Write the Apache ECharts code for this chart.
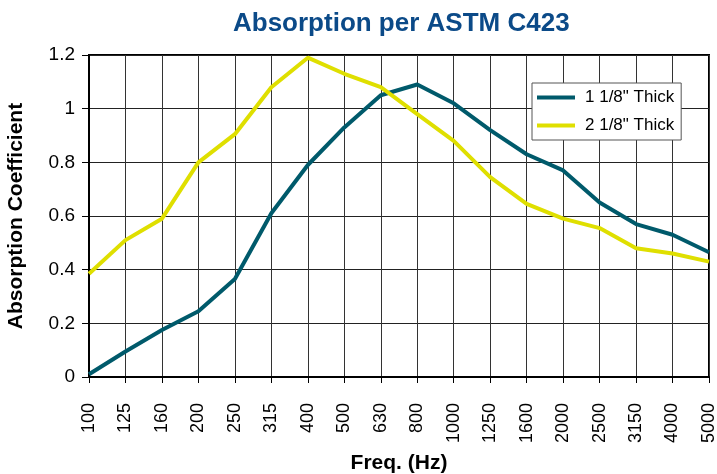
<!DOCTYPE html>
<html>
<head>
<meta charset="utf-8">
<script src="https://cdn.jsdelivr.net/npm/echarts@6/dist/echarts.min.js"></script>
<style>html,body{margin:0;padding:0;background:#fff;}#c{width:717px;height:474px;}</style>
</head>
<body>
<div id="c"></div>
<script>
var categories = ['100','125','160','200','250','315','400','500','630','800','1000','1250','1600','2000','2500','3150','4000','5000'];
var thick118 = [0.01,0.095,0.175,0.245,0.365,0.61,0.79,0.93,1.05,1.09,1.02,0.92,0.83,0.77,0.65,0.57,0.53,0.465];
var thick218 = [0.385,0.51,0.59,0.80,0.905,1.08,1.19,1.13,1.08,0.98,0.88,0.745,0.645,0.59,0.555,0.48,0.46,0.43];
var seriesNames = ['1 1/8" Thick','2 1/8" Thick'];

var chart = echarts.init(document.getElementById('c'));
var font = 'Liberation Sans, Arial, sans-serif';
chart.setOption({
  animation: false,
  backgroundColor: '#fff',
  title: {
    text: 'Absorption per ASTM C423',
    left: 228,
    top: 6,
    textStyle: {fontFamily: font, fontSize: 26, fontWeight: 'bold', color: '#0b4a88'}
  },
  legend: {
    data: [{name: seriesNames[0], icon: 'rect'}, {name: seriesNames[1], icon: 'rect'}],
    orient: 'vertical',
    left: 532,
    top: 83,
    padding: [6, 7, 6, 5],
    itemGap: 11,
    itemWidth: 38,
    itemHeight: 4,
    backgroundColor: '#fff',
    borderColor: '#555',
    borderWidth: 1,
    textStyle: {fontFamily: font, fontSize: 17, color: '#000', lineHeight: 17, padding: [0, 0, 0, 5]}
  },
  grid: {left: 89, right: 8, top: 55, bottom: 97, show: true, borderColor: '#000', borderWidth: 2, backgroundColor: 'transparent', containLabel: false, outerBoundsMode: 'none'},
  xAxis: {
    type: 'category',
    data: categories,
    boundaryGap: false,
    name: 'Freq. (Hz)',
    nameLocation: 'middle',
    nameGap: 76,
    nameTextStyle: {fontFamily: font, fontSize: 21, fontWeight: 'bold', color: '#000'},
    axisLine: {lineStyle: {color: '#000', width: 2}},
    axisTick: {show: true, length: 6, lineStyle: {color: '#000', width: 1}},
    axisLabel: {rotate: 90, margin: 26, fontFamily: font, fontSize: 18, color: '#000', interval: 0},
    splitLine: {show: true, lineStyle: {color: '#333', width: 1}}
  },
  yAxis: {
    type: 'value',
    min: 0,
    max: 1.2,
    interval: 0.2,
    name: 'Absorption Coefficient',
    nameLocation: 'middle',
    nameGap: 62,
    nameRotate: 90,
    nameTextStyle: {fontFamily: font, fontSize: 21, fontWeight: 'bold', color: '#000'},
    axisLine: {show: true, lineStyle: {color: '#000', width: 2}},
    axisTick: {show: true, length: 7, lineStyle: {color: '#000', width: 1}},
    axisLabel: {margin: 14, fontFamily: font, fontSize: 19, color: '#000'},
    splitLine: {show: true, lineStyle: {color: '#222', width: 1}}
  },
  series: [
    {name: seriesNames[0], type: 'line', data: thick118, symbol: 'none', lineStyle: {width: 4, color: '#005a6b'}, itemStyle: {color: '#005a6b'}},
    {name: seriesNames[1], type: 'line', data: thick218, symbol: 'none', lineStyle: {width: 4, color: '#dfdf00'}, itemStyle: {color: '#dfdf00'}}
  ]
});
</script>
</body>
</html>
